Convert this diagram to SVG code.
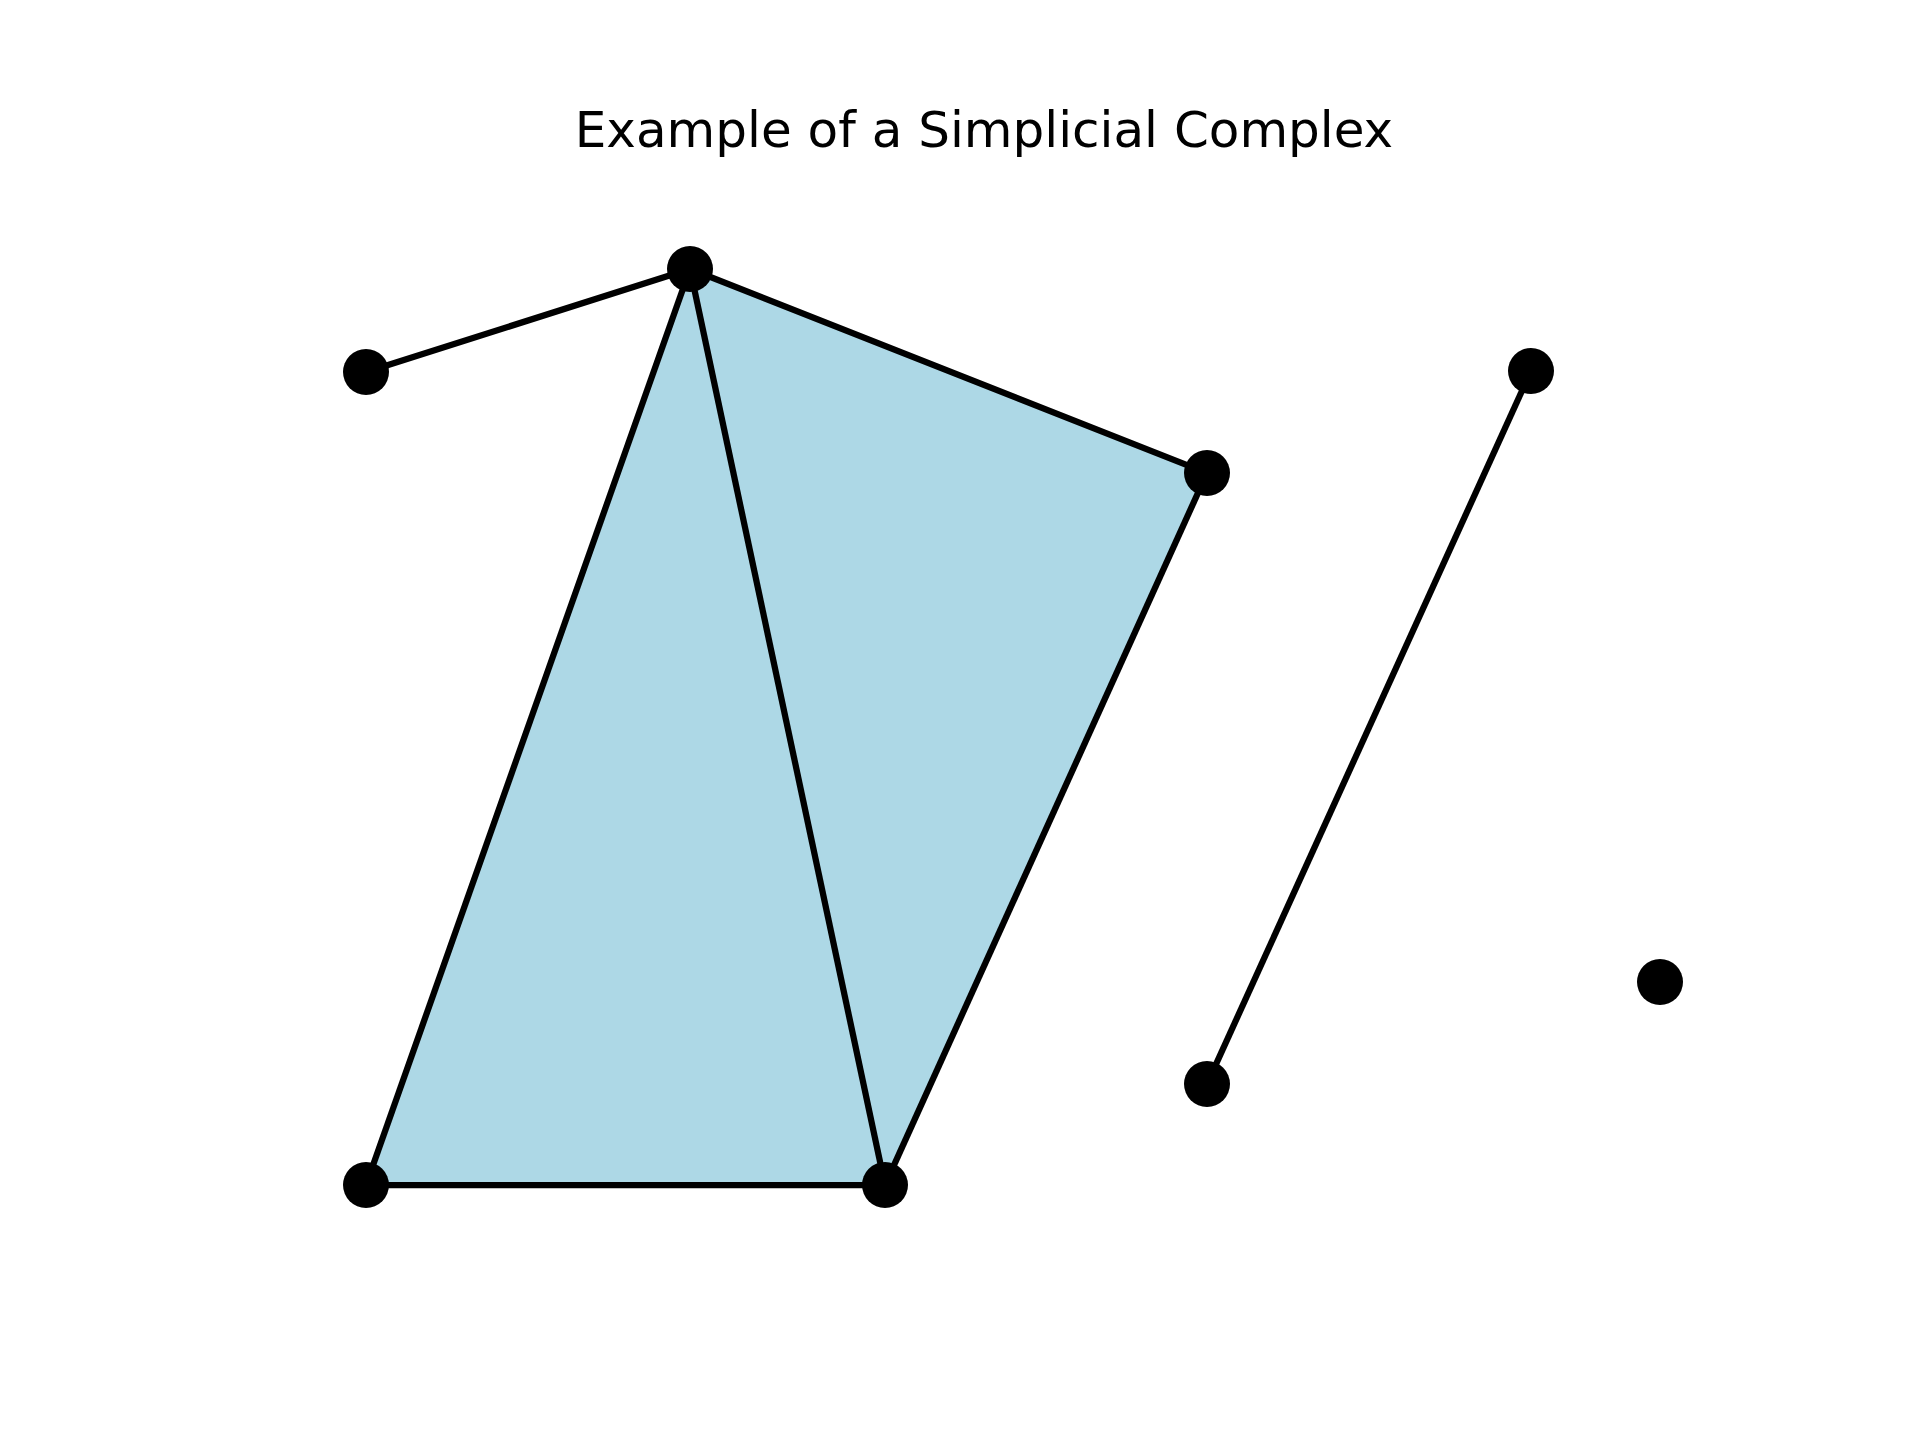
<svg xmlns="http://www.w3.org/2000/svg" width="1920" height="1440" viewBox="0 0 1920 1440">
  <style>
    .face { fill: #ADD8E6; stroke: none; }
    .edge { stroke: #000; stroke-width: 6.25; stroke-linecap: square; fill: none; }
    .vertex { fill: #000; }
    .title { font-family: "DejaVu Sans", sans-serif; font-size: 50px; fill: #000; text-anchor: middle; }
  </style>
  <rect width="1920" height="1440" fill="#fff"/>
  <text class="title" x="984" y="147">Example of a Simplicial Complex</text>
  <g id="faces">
    <polygon class="face" points="366,1185 690,269 885,1185"/>
    <polygon class="face" points="690,269 1207,473 885,1185"/>
  </g>
  <g id="connectors">
    <line class="edge" x1="366" y1="372" x2="690" y2="269"/>
    <line class="edge" x1="690" y1="269" x2="1207" y2="473"/>
    <line class="edge" x1="690" y1="269" x2="366" y2="1185"/>
    <line class="edge" x1="690" y1="269" x2="885" y2="1185"/>
    <line class="edge" x1="366" y1="1185" x2="885" y2="1185"/>
    <line class="edge" x1="885" y1="1185" x2="1207" y2="473"/>
    <line class="edge" x1="1207" y1="1084" x2="1531" y2="371"/>
  </g>
  <g id="vA"><circle class="vertex" cx="366" cy="372" r="23"/></g>
  <g id="vB"><circle class="vertex" cx="690" cy="269" r="23"/></g>
  <g id="vC"><circle class="vertex" cx="1207" cy="473" r="23"/></g>
  <g id="vD"><circle class="vertex" cx="366" cy="1185" r="23"/></g>
  <g id="vE"><circle class="vertex" cx="885" cy="1185" r="23"/></g>
  <g id="vF"><circle class="vertex" cx="1531" cy="371" r="23"/></g>
  <g id="vG"><circle class="vertex" cx="1207" cy="1084" r="23"/></g>
  <g id="vH"><circle class="vertex" cx="1660" cy="982" r="23"/></g>
</svg>
